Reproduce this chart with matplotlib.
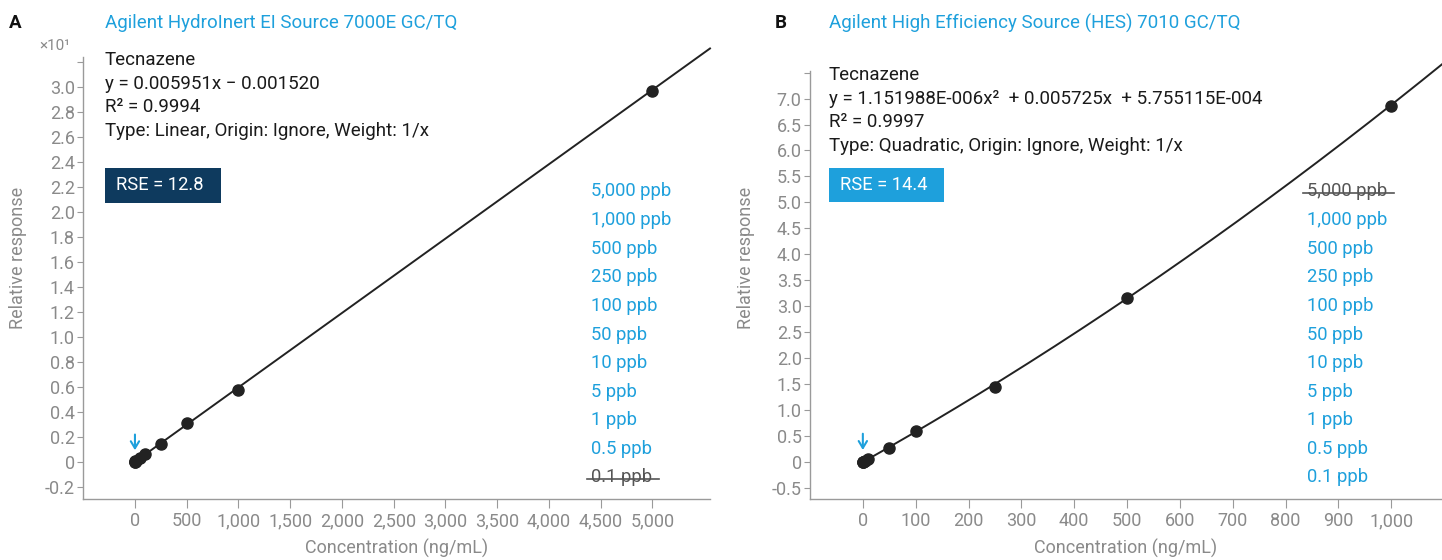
import numpy as np
import matplotlib
matplotlib.use("Agg")
from matplotlib import pyplot as plt
from matplotlib.lines import Line2D
from matplotlib.patches import Rectangle
from matplotlib.ticker import FuncFormatter

plt.rcParams['font.family'] = ['Roboto', 'DejaVu Sans']

# panel A: HydroInert EI source, linear fit (0.1 ppb excluded)
conc_a = [0.5, 1, 5, 10, 50, 100, 250, 500, 1000, 5000]
resp_a = [0.003, 0.006, 0.03, 0.06, 0.30, 0.65, 1.44, 3.1, 5.77, 29.7]
slope_a, intercept_a = 0.005951, -0.001520

# panel B: HES source, quadratic fit (5,000 ppb excluded)
conc_b = [0.1, 0.5, 1, 5, 10, 50, 100, 250, 500, 1000]
resp_b = [0.001, 0.003, 0.006, 0.03, 0.06, 0.28, 0.60, 1.45, 3.16, 6.86]
quad_b, lin_b, const_b = 1.151988e-6, 0.005725, 5.755115e-4

levels = ["5,000 ppb", "1,000 ppb", "500 ppb", "250 ppb", "100 ppb", "50 ppb",
          "10 ppb", "5 ppb", "1 ppb", "0.5 ppb", "0.1 ppb"]
excluded_a = "0.1 ppb"
excluded_b = "5,000 ppb"

BLUE = "#1ea0dc"
NAVY = "#0e3a5e"
GRAY = "#8a8a8a"
DARK = "#222222"

W, H = 1442, 560
fig = plt.figure(figsize=(W / 100, H / 100), dpi=100)


def fx(px):
    return px / W


def fy(py):
    return 1 - py / H


ax_a = fig.add_axes([fx(83), fy(499), fx(710) - fx(83), fy(57) - fy(499)])
ax_b = fig.add_axes([fx(810), fy(499), fx(1442) - fx(810), fy(71) - fy(499)])


def style(ax):
    for s in ["top", "right"]:
        ax.spines[s].set_visible(False)
    for s in ["left", "bottom"]:
        ax.spines[s].set_color("#9a9a9a")
        ax.spines[s].set_linewidth(1.0)
    ax.tick_params(axis="both", colors="#9a9a9a", labelcolor=GRAY, labelsize=13)
    ax.tick_params(axis="x", length=6.5, pad=3)
    ax.tick_params(axis="y", length=4, pad=2)
    ax.set_xlabel("Concentration (ng/mL)", color=GRAY, fontsize=13, labelpad=6)
    ax.set_ylabel("Relative response", color=GRAY, fontsize=13)


# ---- panel A
style(ax_a)
ax_a.set_xlim(-502, 5556)
ax_a.set_ylim(-2.98, 32.38)
ax_a.set_xticks(np.arange(0, 5001, 500))
ax_a.xaxis.set_major_formatter(FuncFormatter(lambda v, p: f"{v:,.0f}"))
ax_a.set_yticks(np.arange(-2, 33, 2))
ax_a.yaxis.set_major_formatter(FuncFormatter(
    lambda v, p: "" if v > 31 else ("0" if abs(v) < 1e-9 else f"{v / 10:.1f}")))
ax_a.yaxis.set_label_coords((27 - 83) / 627, (499 - 258) / 442)
xa = np.linspace(0, 5556, 200)
ax_a.plot(xa, slope_a * xa + intercept_a, color=DARK, lw=1.4, clip_on=False)
ax_a.plot(conc_a, resp_a, "o", color=DARK, ms=8, clip_on=False)
ax_a.annotate("", xy=(0, 0.7), xytext=(0, 2.4),
              arrowprops=dict(arrowstyle="->,head_length=0.5,head_width=0.3",
                              color=BLUE, lw=1.5))

# ---- panel B
style(ax_b)
ax_b.set_xlim(-100, 1096)
ax_b.set_ylim(-0.71, 7.53)
ax_b.set_xticks(np.arange(0, 1001, 100))
ax_b.xaxis.set_major_formatter(FuncFormatter(lambda v, p: f"{v:,.0f}"))
ax_b.set_yticks(np.arange(-0.5, 7.51, 0.5))
ax_b.yaxis.set_major_formatter(FuncFormatter(
    lambda v, p: "" if v > 7.2 else ("0" if abs(v) < 1e-9 else f"{v:.1f}")))
ax_b.yaxis.set_label_coords((755 - 810) / 632, (499 - 258) / 428)
xb = np.linspace(0, 1096, 200)
ax_b.plot(xb, quad_b * xb ** 2 + lin_b * xb + const_b, color=DARK, lw=1.4, clip_on=False)
ax_b.plot(conc_b, resp_b, "o", color=DARK, ms=8, clip_on=False)
ax_b.annotate("", xy=(0, 0.18), xytext=(0, 0.6),
              arrowprops=dict(arrowstyle="->,head_length=0.5,head_width=0.3",
                              color=BLUE, lw=1.5))

# ---- headings
fig.text(fx(9), fy(23), "A", fontsize=13.5, fontweight="bold", va="center", color="#111")
fig.text(fx(105), fy(23), "Agilent HydroInert EI Source 7000E GC/TQ", fontsize=13.5,
         color=BLUE, va="center")
fig.text(fx(775), fy(23), "B", fontsize=13.5, fontweight="bold", va="center", color="#111")
fig.text(fx(829), fy(23), "Agilent High Efficiency Source (HES) 7010 GC/TQ", fontsize=13.5,
         color=BLUE, va="center")
fig.text(fx(39), fy(46), "×10¹", fontsize=11, color=GRAY, va="center")

# ---- equation blocks
lines_a = ["Tecnazene", "y = 0.005951x \u2212 0.001520", "R² = 0.9994",
           "Type: Linear, Origin: Ignore, Weight: 1/x"]
lines_b = ["Tecnazene", "y = 1.151988E-006x²  + 0.005725x  + 5.755115E-004", "R² = 0.9997",
           "Type: Quadratic, Origin: Ignore, Weight: 1/x"]
for i, t in enumerate(lines_a):
    fig.text(fx(105), fy(60 + i * 23.7), t, fontsize=13.5, color="#1a1a1a", va="center")
for i, t in enumerate(lines_b):
    fig.text(fx(829), fy(75 + i * 23.7), t, fontsize=13.5, color="#1a1a1a", va="center")

# RSE boxes
for x0, y0, x1, y1, c, t in [(105, 168, 221, 203, NAVY, "RSE = 12.8"),
                             (829, 168, 944, 202, BLUE, "RSE = 14.4")]:
    fig.add_artist(Rectangle((fx(x0), fy(y1)), fx(x1) - fx(x0), fy(y0) - fy(y1),
                             transform=fig.transFigure, fc=c, ec="none"))
    fig.text(fx(x0 + 11), fy((y0 + y1) / 2), t, fontsize=13.2, color="white", va="center")

# ---- concentration lists
strike = []
for i, lv in enumerate(levels):
    for x0, excl in [(591, excluded_a), (1307, excluded_b)]:
        out = lv == excl
        t = fig.text(fx(x0), fy(191.5 + i * 28.6), lv, fontsize=13.2,
                     color="#555555" if out else BLUE, va="center")
        if out:
            strike.append(t)

fig.canvas.draw()
r = fig.canvas.get_renderer()
for t in strike:
    bb = t.get_window_extent(r)
    ym = (bb.y0 + bb.y1) / 2 - 1
    fig.add_artist(Line2D([fx(bb.x0 - 4), fx(bb.x1 + 7)], [ym / H, ym / H],
                          transform=fig.transFigure, color="#555555", lw=1.2))

fig.savefig("out.png", dpi=100)
